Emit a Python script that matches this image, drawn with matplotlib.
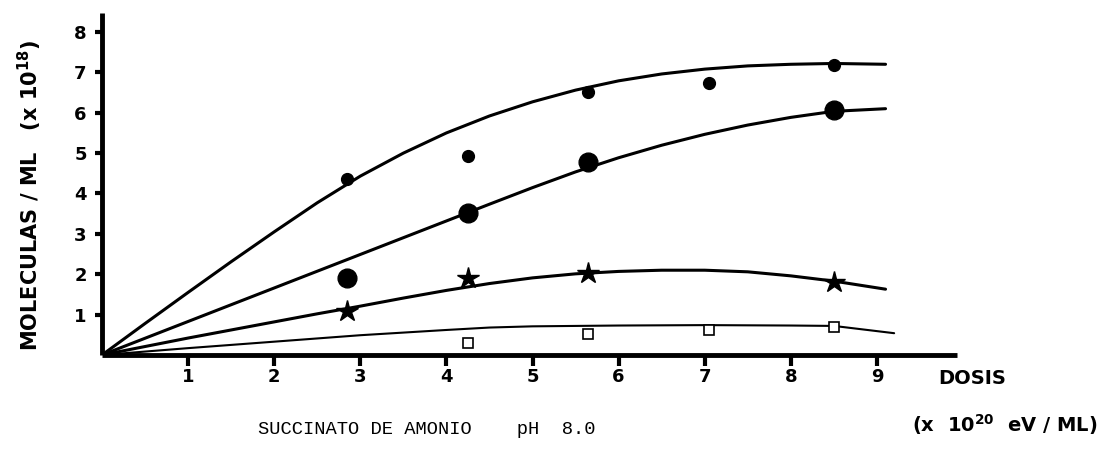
import numpy as np
import matplotlib
matplotlib.use("Agg")
import matplotlib.pyplot as plt

# measured points (x 10^18 molecules/ML) vs dose (x 10^20 eV/ML)
serie_a_x = [2.85, 4.25, 5.65, 7.05, 8.5]
serie_a_y = [4.36, 4.93, 6.51, 6.73, 7.18]

serie_b_x = [2.85, 4.25, 5.65, 8.5]
serie_b_y = [1.91, 3.51, 4.78, 6.06]

serie_c_x = [2.85, 4.25, 5.65, 8.5]
serie_c_y = [1.09, 1.91, 2.03, 1.81]

serie_d_x = [4.25, 5.65, 7.05, 8.5]
serie_d_y = [0.30, 0.52, 0.62, 0.69]

# hand-drawn trend curves
curva_x = [0, 0.5, 1, 1.5, 2, 2.5, 3, 3.5, 4, 4.5, 5, 5.5, 6, 6.5, 7, 7.5, 8, 8.5, 9.1]
curva_a = [0, 0.78, 1.55, 2.31, 3.05, 3.77, 4.43, 5.0, 5.5, 5.92, 6.27, 6.56, 6.79, 6.96, 7.08, 7.16, 7.2, 7.22, 7.2]
curva_b = [0, 0.415, 0.83, 1.245, 1.66, 2.075, 2.49, 2.905, 3.32, 3.735, 4.145, 4.535, 4.885, 5.195, 5.465, 5.695, 5.885, 6.035, 6.1]
curva_c = [0, 0.21, 0.42, 0.62, 0.82, 1.02, 1.21, 1.41, 1.6, 1.77, 1.91, 2.01, 2.07, 2.1, 2.1, 2.06, 1.96, 1.83, 1.63]
curva_d_x = [0, 1, 2, 3, 4, 4.5, 5, 6, 7, 8, 8.5, 9.2]
curva_d = [0, 0.17, 0.33, 0.49, 0.62, 0.68, 0.71, 0.73, 0.74, 0.73, 0.72, 0.54]

x_ticks = list(range(1, 10))
y_ticks = list(range(1, 9))

fig = plt.figure(figsize=(11.11, 4.66), dpi=100)
ax = fig.add_axes([102 / 1111, 111 / 466, 855 / 1111, 342 / 466])

# curves
ax.plot(curva_x, curva_a, color='black', lw=2.2, solid_capstyle='round')
ax.plot(curva_x, curva_b, color='black', lw=2.2, solid_capstyle='round')
ax.plot(curva_x, curva_c, color='black', lw=2.2, solid_capstyle='round')
ax.plot(curva_d_x, curva_d, color='black', lw=1.5, solid_capstyle='round')

# points
ax.plot(serie_a_x, serie_a_y, 'o', color='black', ms=8.5, zorder=5)
ax.plot(serie_b_x, serie_b_y, 'o', color='black', ms=13.5, zorder=5)
ax.plot(serie_c_x, serie_c_y, '*', color='black', ms=16, zorder=5)
ax.plot(serie_d_x, serie_d_y, 's', mfc='white', mec='black', mew=1.2, ms=7, zorder=5)

ax.set_xlim(0, 9.93)
ax.set_ylim(0, 8.47)
for side in ['top', 'right']:
    ax.spines[side].set_visible(False)
for side in ['left', 'bottom']:
    ax.spines[side].set_linewidth(3.5)
    ax.spines[side].set_capstyle('butt')

ax.set_xticks(x_ticks)
ax.set_yticks(y_ticks)
ax.tick_params(axis='x', direction='out', length=8, width=3, pad=1, labelsize=13)
ax.tick_params(axis='y', direction='out', length=5, width=3, pad=6, labelsize=13)
for lab in ax.get_xticklabels() + ax.get_yticklabels():
    lab.set_fontweight('bold')

fig.text(30 / 1111, 1 - 195 / 466, 'MOLECULAS / ML   (x 10$^{\\mathbf{18}}$)',
         rotation=90, ha='center', va='center', fontsize=15, fontweight='bold')
fig.text(972 / 1111, 1 - 378 / 466, 'DOSIS', ha='center', va='center',
         fontsize=14, fontweight='bold')
fig.text(1005 / 1111, 1 - 425 / 466, '(x  10$^{\\mathbf{20}}$  eV / ML)', ha='center', va='center',
         fontsize=14, fontweight='bold')
fig.text(258 / 1111, 1 - 430 / 466, 'SUCCINATO DE AMONIO    pH  8.0', ha='left', va='center',
         fontsize=13.5, family='Liberation Mono')

fig.savefig('out.png', dpi=100)
